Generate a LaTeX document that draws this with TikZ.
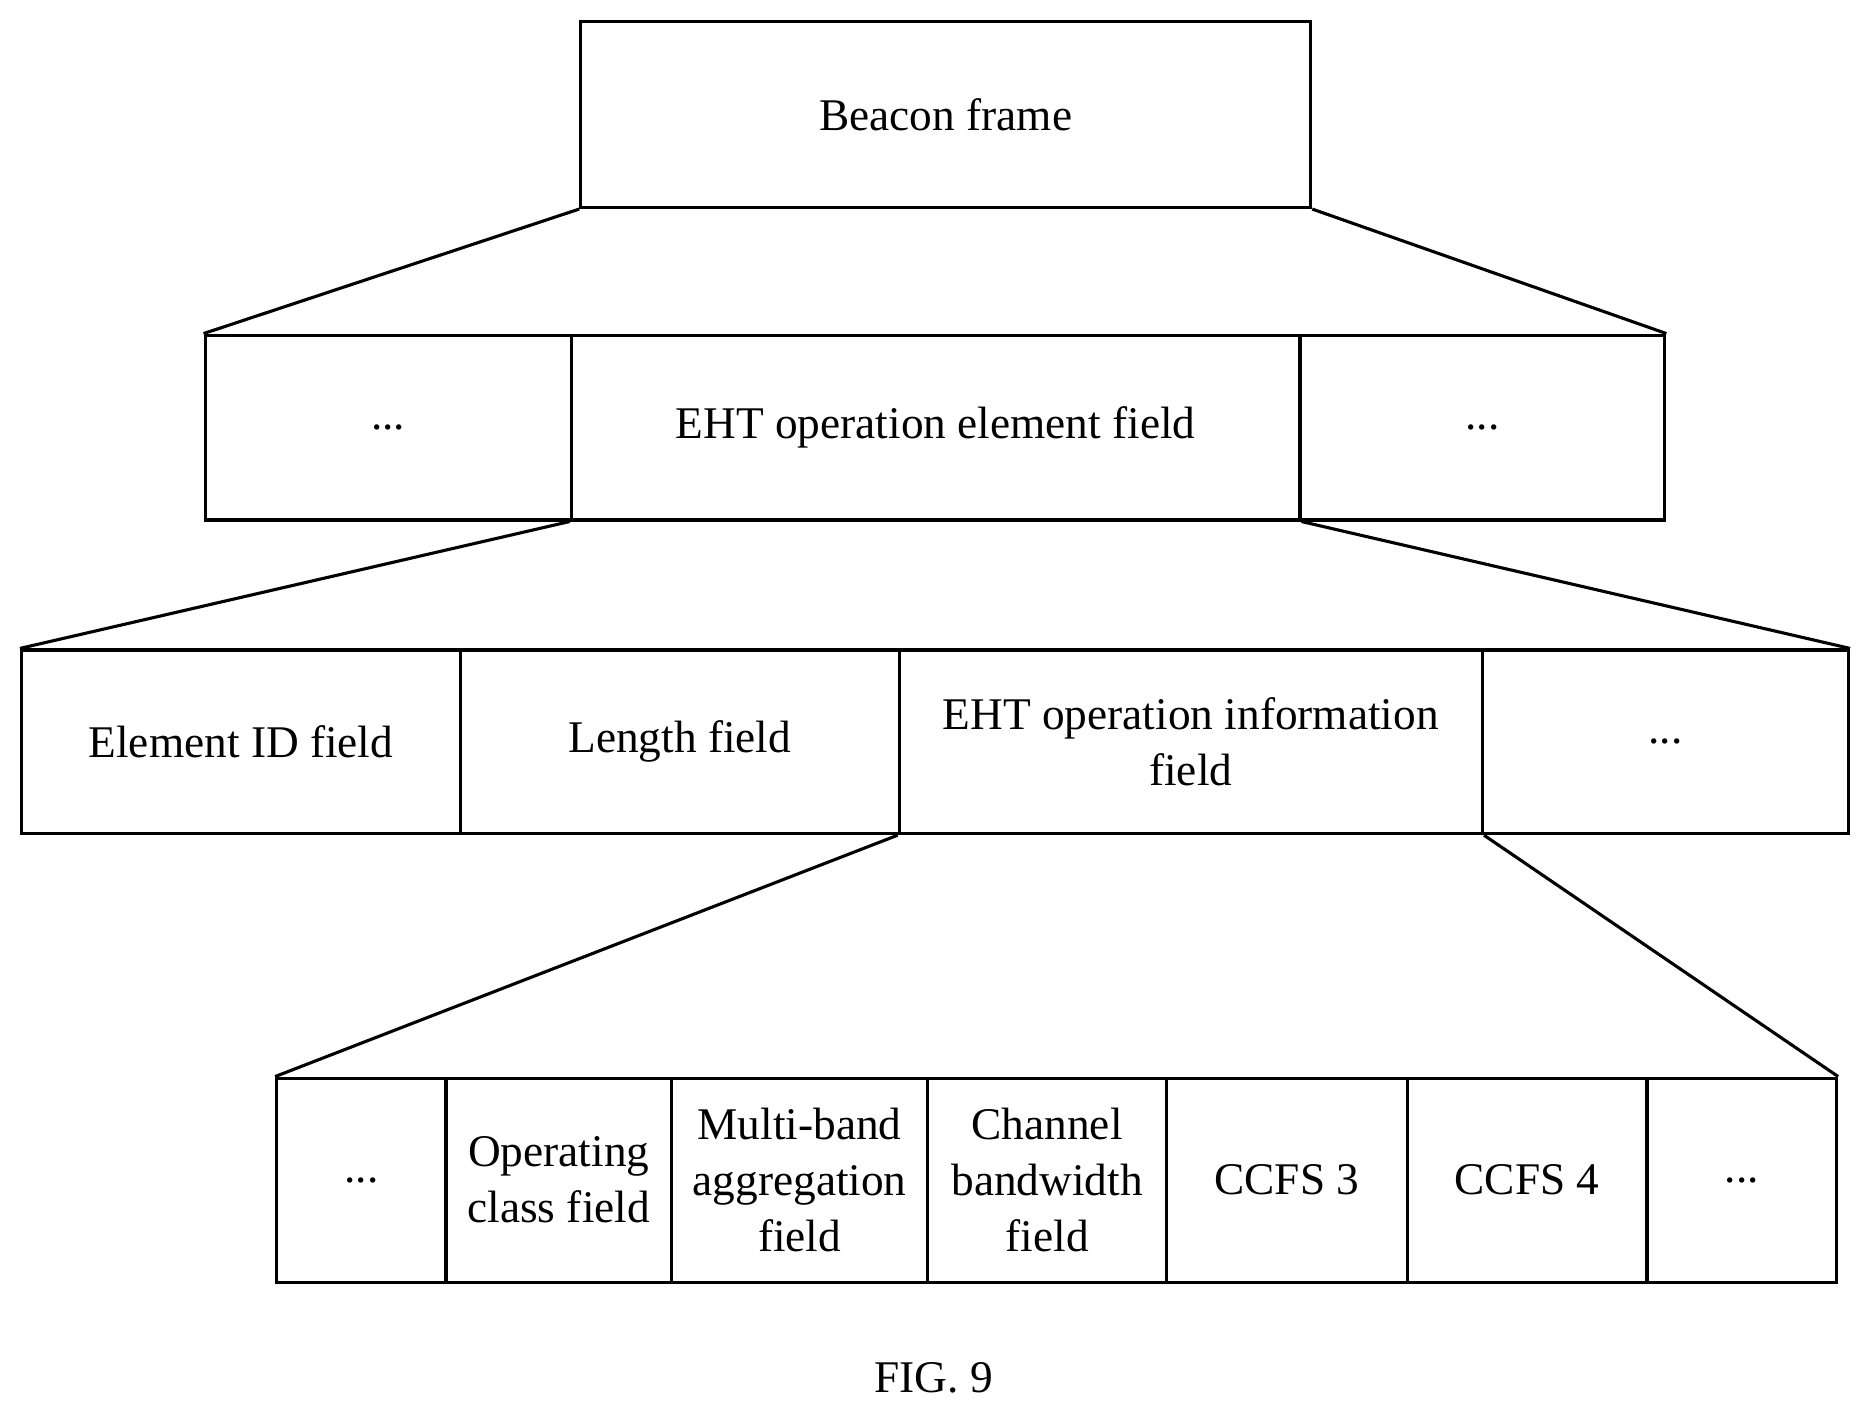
\documentclass[tikz,border=0pt]{standalone}
\usepackage{fontspec}
\setmainfont{Liberation Serif}
\begin{document}
\begin{tikzpicture}[x=1pt,y=-1pt,
  lw/.style={line width=2.6pt},
  txt/.style={font=\fontsize{38}{47}\selectfont,align=center}]
\useasboundingbox (0,0) rectangle (1568,1190);
\def\bx#1#2#3#4#5#6{\node[txt,draw,lw,inner sep=0pt,minimum width={(#4)-(#2)},minimum height={(#5)-(#3)}] (#1) at ({(#2+#4)/2},{(#3+#5)/2}) {#6};}
\bx{beacon}{487}{18}{1099}{174}{Beacon frame}
\bx{a1}{172}{281}{479}{436}{...}
\bx{a2}{479}{281}{1090}{436}{EHT operation element field}
\bx{a3}{1090}{281}{1396}{436}{...}
\bx{b1}{18}{545}{386}{699}{Element ID field}
\bx{b2}{386}{545}{754}{699}{Length field}
\bx{b3}{754}{545}{1243}{699}{EHT operation information\\field}
\bx{b4}{1243}{545}{1550}{699}{...}
\bx{c1}{232}{904}{374}{1075}{...}
\bx{c2}{374}{904}{563}{1075}{Operating\\class field}
\bx{c3}{563}{904}{778}{1075}{Multi-band\\aggregation\\field}
\bx{c4}{778}{904}{978}{1075}{Channel\\bandwidth\\field}
\bx{c5}{978}{904}{1180}{1075}{CCFS 3}
\bx{c6}{1180}{904}{1381}{1075}{CCFS 4}
\bx{c7}{1381}{904}{1540}{1075}{...}
\draw[lw] (beacon.south west) -- (a1.north west);
\draw[lw] (beacon.south east) -- (a3.north east);
\draw[lw] (a2.south west) -- (b1.north west);
\draw[lw] (a2.south east) -- (b4.north east);
\draw[lw] (b3.south west) -- (c1.north west);
\draw[lw] (b3.south east) -- (c7.north east);
\node[txt] (fig) at (783,1155) {FIG. 9};
\end{tikzpicture}
\end{document}
